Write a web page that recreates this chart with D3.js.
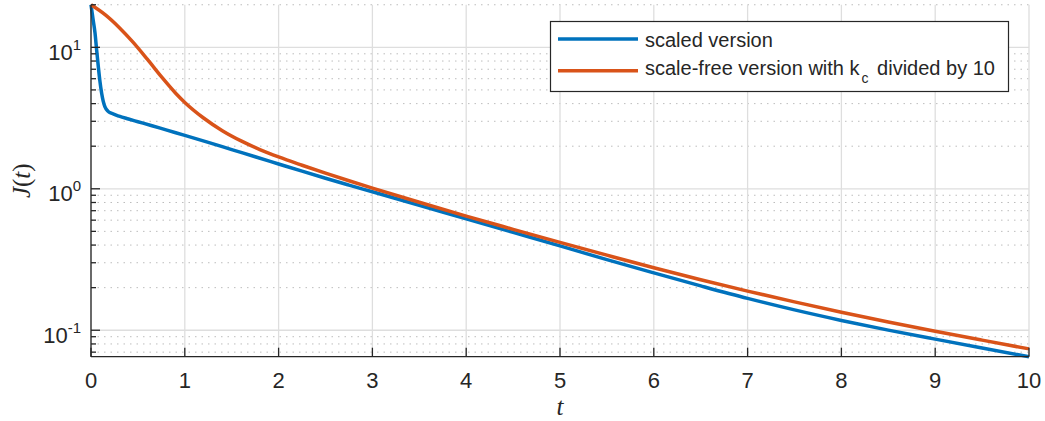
<!DOCTYPE html>
<html>
<head>
<meta charset="utf-8">
<script src="https://cdn.jsdelivr.net/npm/d3@7"></script>
<style>
  body { margin: 0; background: #fff; }
  text { font-family: "Liberation Sans", Arial, sans-serif; fill: #262626; }
  .lbl { font-family: "Liberation Serif", "Times New Roman", serif; }
</style>
</head>
<body>
<script>
// values
const tBlue = [0, 0.02, 0.043, 0.06, 0.078, 0.095, 0.114, 0.13, 0.149, 0.18, 0.22, 0.3, 0.4, 0.5, 0.65, 0.8,
  1, 1.25, 1.5, 1.75, 2, 2.25, 2.5, 2.75, 3, 3.5, 4, 4.5, 5, 5.5, 6, 6.5, 7, 7.5, 8, 8.5, 9, 9.5, 10];
const jBlue = [20, 16.1, 12.6, 9.6, 7.3, 5.77, 4.72, 4.17, 3.8, 3.54, 3.42, 3.26, 3.113, 2.98, 2.792, 2.607,
  2.388, 2.13, 1.894, 1.685, 1.498, 1.332, 1.187, 1.062, 0.952, 0.764, 0.613, 0.492, 0.395, 0.3154, 0.2543,
  0.2059, 0.1679, 0.1392, 0.1173, 0.1002, 0.0865, 0.0749, 0.065];

const tOrange = [0, 0.15, 0.3, 0.45, 0.6, 0.75, 0.9, 1, 1.2, 1.4, 1.6, 1.8, 2, 2.25, 2.5, 2.75, 3, 3.5,
  4, 4.5, 5, 5.5, 6, 6.5, 7, 7.5, 8, 8.5, 9, 9.5, 10];
const jOrange = [20, 17.03, 13.83, 10.83, 8.24, 6.2, 4.76, 4.08, 3.166, 2.574, 2.179, 1.894, 1.679, 1.467,
  1.289, 1.139, 1.011, 0.8026, 0.641, 0.517, 0.418, 0.3395, 0.2768, 0.2277, 0.1891, 0.1586, 0.1341, 0.1145,
  0.0984, 0.0851, 0.0738];

const seriesNames = ["scaled version", "scale-free version with k", "c", " divided by 10"];
const xTicks = [0, 1, 2, 3, 4, 5, 6, 7, 8, 9, 10];
const yMajor = [0.1, 1, 10];
const yExp = ["-1", "0", "1"];
const xLim = [0, 10];
const yLim = [0.065, 20];

const width = 1045, height = 421;
const margin = {top: 4.75, right: 16, bottom: 64.3, left: 91};
const colors = ["#0072BD", "#D95319"];

const svg = d3.select("body").append("svg")
    .attr("width", width)
    .attr("height", height);

const x = d3.scaleLinear().domain(xLim).range([margin.left, width - margin.right]);
const y = d3.scaleLog().domain(yLim).range([height - margin.bottom, margin.top]);

// minor log ticks 2..9 of each decade inside the limits
const yMinor = [];
[0.01, 0.1, 1, 10].forEach(d => {
  for (let k = 2; k <= 9; k++) {
    const v = +(d * k).toPrecision(3);
    if (v >= yLim[0] && v <= yLim[1]) yMinor.push(v);
  }
});

const grid = svg.append("g");
grid.selectAll(".minor").data(yMinor).enter().append("line")
    .attr("x1", x(xLim[0])).attr("x2", x(xLim[1]))
    .attr("y1", d => y(d)).attr("y2", d => y(d))
    .attr("stroke", "#bdbdbd")
    .attr("stroke-width", 1)
    .attr("stroke-dasharray", "1.5,5");
grid.selectAll(".vmaj").data(xTicks).enter().append("line")
    .attr("x1", d => x(d)).attr("x2", d => x(d))
    .attr("y1", y(yLim[0])).attr("y2", y(yLim[1]))
    .attr("stroke", "#dedede")
    .attr("stroke-width", 1.3);
grid.selectAll(".hmaj").data(yMajor).enter().append("line")
    .attr("x1", x(xLim[0])).attr("x2", x(xLim[1]))
    .attr("y1", d => y(d)).attr("y2", d => y(d))
    .attr("stroke", "#dedede")
    .attr("stroke-width", 1.3);

// curves
const line = d3.line()
    .x(d => x(d[0]))
    .y(d => y(d[1]))
    .curve(d3.curveMonotoneX);

[[tBlue, jBlue], [tOrange, jOrange]].forEach((s, i) => {
  svg.append("path")
      .datum(d3.zip(s[0], s[1]))
      .attr("fill", "none")
      .attr("stroke", colors[i])
      .attr("stroke-width", 3.5)
      .attr("stroke-linejoin", "round")
      .attr("d", line);
});

// axes (left and bottom only), ticks drawn inward
const axisCol = "#262626";
const ax = svg.append("g");
ax.append("line")
    .attr("x1", x(0)).attr("x2", x(0))
    .attr("y1", y(yLim[0])).attr("y2", y(yLim[1]))
    .attr("stroke", axisCol).attr("stroke-width", 1.3);
ax.append("line")
    .attr("x1", x(0)).attr("x2", x(10))
    .attr("y1", y(yLim[0])).attr("y2", y(yLim[0]))
    .attr("stroke", axisCol).attr("stroke-width", 1.3);

ax.selectAll(".xt").data(xTicks).enter().append("line")
    .attr("x1", d => x(d)).attr("x2", d => x(d))
    .attr("y1", y(yLim[0])).attr("y2", y(yLim[0]) - 9)
    .attr("stroke", axisCol).attr("stroke-width", 1.3);
ax.selectAll(".xl").data(xTicks).enter().append("text")
    .attr("x", d => x(d))
    .attr("y", 387.5)
    .attr("text-anchor", "middle")
    .style("font-size", "22px")
    .text(d => d);

ax.selectAll(".ymt").data(yMajor).enter().append("line")
    .attr("x1", x(0)).attr("x2", x(0) + 9)
    .attr("y1", d => y(d)).attr("y2", d => y(d))
    .attr("stroke", axisCol).attr("stroke-width", 1.3);
ax.selectAll(".ymn").data(yMinor).enter().append("line")
    .attr("x1", x(0)).attr("x2", x(0) + 5)
    .attr("y1", d => y(d)).attr("y2", d => y(d))
    .attr("stroke", axisCol).attr("stroke-width", 1.3);

const yl = ax.selectAll(".yl").data(yMajor).enter().append("text")
    .attr("x", 81)
    .attr("y", d => y(d) + 12.5)
    .attr("text-anchor", "end")
    .style("font-size", "22px");
yl.append("tspan").text("10");
yl.append("tspan")
    .attr("dy", -10)
    .style("font-size", "15px")
    .text((d, i) => yExp[i]);

// axis labels
const jl = svg.append("text")
    .attr("class", "lbl")
    .attr("transform", "translate(30," + ((y(yLim[0]) + y(yLim[1])) / 2) + ") rotate(-90)")
    .attr("text-anchor", "middle")
    .style("font-size", "25px");
jl.append("tspan").style("font-style", "italic").text("J");
jl.append("tspan").text("(");
jl.append("tspan").style("font-style", "italic").text("t");
jl.append("tspan").text(")");

svg.append("text")
    .attr("class", "lbl")
    .attr("x", (x(0) + x(10)) / 2)
    .attr("y", 415)
    .attr("text-anchor", "middle")
    .style("font-size", "25px")
    .style("font-style", "italic")
    .text("t");

// legend
const lg = svg.append("g");
lg.append("rect")
    .attr("x", 550.5).attr("y", 21.5)
    .attr("width", 458).attr("height", 70)
    .attr("fill", "#fff")
    .attr("stroke", axisCol)
    .attr("stroke-width", 1.2);
[39, 70.7].forEach((ly, i) => {
  lg.append("line")
      .attr("x1", 558).attr("x2", 638)
      .attr("y1", ly).attr("y2", ly)
      .attr("stroke", colors[i])
      .attr("stroke-width", 3.5);
});
lg.append("text")
    .attr("x", 645).attr("y", 46.7)
    .style("font-size", "20px")
    .text(seriesNames[0]);
const l2 = lg.append("text")
    .attr("x", 645).attr("y", 74.5)
    .style("font-size", "20px");
l2.append("tspan").text(seriesNames[1]);
l2.append("tspan").attr("dx", 2).attr("dy", 8).style("font-size", "14px").text(seriesNames[2]);
l2.append("tspan").attr("dx", 3).attr("dy", -8).text(seriesNames[3]);
</script>
</body>
</html>
